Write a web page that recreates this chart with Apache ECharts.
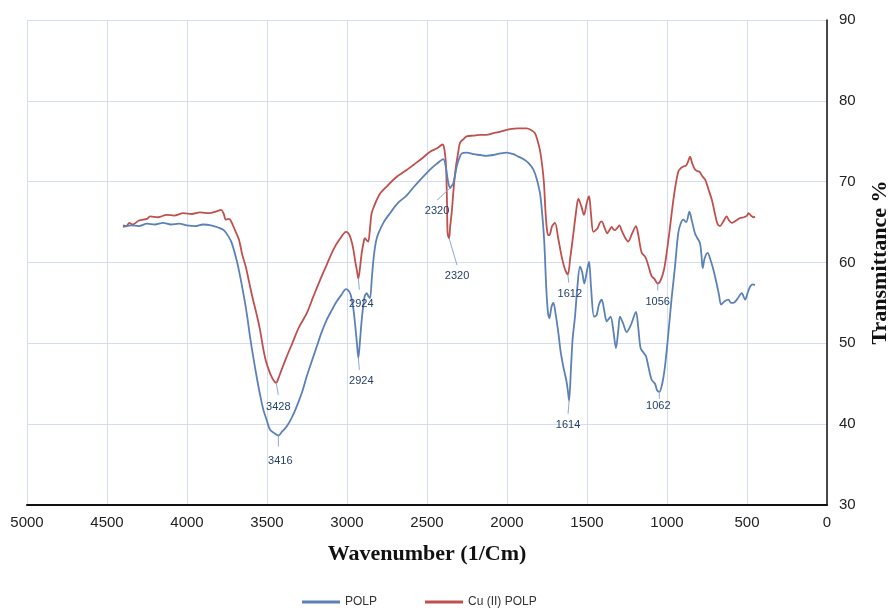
<!DOCTYPE html>
<html><head><meta charset="utf-8">
<script src="https://cdn.jsdelivr.net/npm/echarts@6/dist/echarts.min.js"></script>
<style>html,body{margin:0;padding:0;background:#fff}#c{width:893px;height:612px}</style>
</head><body><div id="c"></div>
<script>
// Wavenumber ticks and axis ranges
const xTicks = [5000,4500,4000,3500,3000,2500,2000,1500,1000,500,0];
const yTicks = [30,40,50,60,70,80,90];

// POLP (blue)
const polpWave = [4400,4350,4300,4250,4200,4150,4100,4050,4000,3950,3900,3850,3800,3770,3740,3720,3690,3670,3648,3625,3606,3585,3565,3545,3523,3500,3481,3455,3429,3405,3377,3345,3314,3280,3252,3220,3189,3160,3127,3095,3064,3035,3006,2990,2977,2962,2950,2938,2929,2920,2908,2890,2877,2865,2856,2845,2835,2820,2804,2770,2731,2680,2627,2580,2544,2481,2440,2398,2383,2370,2356,2345,2335,2314,2300,2283,2252,2210,2169,2130,2085,2040,2002,1960,1930,1898,1865,1835,1815,1794,1780,1767,1755,1745,1735,1722,1710,1695,1679,1665,1648,1630,1620,1612,1600,1590,1575,1560,1544,1530,1517,1500,1487,1475,1456,1440,1425,1408,1392,1377,1365,1352,1335,1319,1305,1294,1275,1252,1225,1194,1180,1165,1145,1131,1115,1096,1075,1062,1048,1030,1013,995,972,950,930,915,898,880,860,845,825,810,794,785,777,765,746,728,710,690,675,662,640,616,600,585,560,533,512,495,481,465,450];
const polpT = [64.4,64.6,64.5,64.8,64.7,64.9,64.7,64.8,64.6,64.5,64.7,64.6,64.3,64.0,63.2,62.4,60.3,58.5,56.2,53.5,50.8,48.2,45.9,43.8,41.8,40.4,39.3,38.9,38.6,39.1,39.7,40.8,42.2,44.0,45.9,47.8,49.6,51.3,52.9,54.1,55.2,56.0,56.7,56.5,56.0,54.5,52.5,50.0,48.2,50.0,52.9,55.8,56.2,55.8,55.6,58.0,60.3,62.5,63.6,65.0,66.1,67.4,68.3,69.4,70.2,71.5,72.2,72.8,71.9,70.2,69.2,69.5,69.8,71.9,72.8,73.5,73.6,73.4,73.3,73.2,73.3,73.5,73.6,73.4,73.1,72.8,72.3,71.5,70.4,68.6,66.0,62.5,57.0,54.0,53.1,54.5,55.0,53.5,51.3,49.0,47.1,45.5,44.2,42.9,47.0,50.5,53.3,57.0,59.5,58.8,57.4,59.0,60.1,57.0,53.3,53.5,54.8,55.4,54.0,52.7,53.0,53.3,51.5,49.4,51.5,53.3,52.5,51.4,52.3,53.9,52.0,49.4,48.8,48.4,47.0,45.5,45.0,44.2,44.0,45.0,47.1,50.5,55.4,59.5,63.6,64.8,65.3,65.0,66.3,65.2,63.6,63.0,62.4,61.0,59.3,60.5,61.2,60.3,59.1,57.4,56.0,54.8,55.2,55.4,55.0,55.0,55.5,56.2,55.4,56.3,57.0,57.3,57.2];

// Cu (II) POLP (red)
const cuWave = [4400,4380,4360,4340,4300,4250,4231,4180,4127,4080,4023,3970,3919,3860,3820,3786,3770,3758,3740,3727,3700,3675,3655,3633,3612,3592,3565,3544,3525,3508,3485,3467,3450,3442,3430,3417,3380,3342,3300,3252,3210,3169,3125,3085,3045,3006,2990,2977,2962,2950,2938,2929,2918,2908,2895,2888,2875,2867,2855,2846,2830,2815,2794,2752,2689,2630,2583,2530,2481,2440,2402,2390,2381,2375,2371,2362,2355,2346,2332,2319,2305,2294,2270,2252,2210,2169,2130,2085,2040,1981,1930,1877,1850,1825,1808,1794,1780,1769,1760,1752,1743,1735,1718,1700,1680,1658,1638,1620,1605,1585,1570,1554,1536,1519,1500,1487,1475,1460,1435,1420,1408,1390,1373,1360,1346,1335,1325,1310,1298,1280,1260,1242,1220,1194,1180,1170,1158,1140,1131,1115,1096,1080,1058,1040,1019,1000,981,955,930,912,894,880,868,856,843,825,810,796,780,760,740,719,700,685,669,650,627,612,596,575,544,520,500,491,475,460,450];
const cuT = [64.6,64.5,64.9,64.7,65.2,65.4,65.7,65.6,65.9,65.8,66.1,66.0,66.2,66.1,66.3,66.5,66.0,65.3,65.4,65.2,64.0,62.8,61.0,59.5,57.6,55.8,53.6,51.7,49.5,47.9,46.5,45.7,45.2,45.1,45.6,46.3,48.2,50.0,52.0,53.7,55.8,57.8,59.8,61.6,62.9,63.8,63.6,63.0,61.8,60.3,59.0,58.0,59.5,61.2,62.6,63.0,62.7,62.6,64.5,66.1,67.0,67.7,68.5,69.4,70.6,71.4,72.1,72.9,73.7,74.1,74.6,73.8,71.9,67.5,63.6,63.0,64.5,66.1,69.5,71.9,73.6,74.8,75.3,75.6,75.7,75.8,75.8,76.0,76.2,76.5,76.6,76.6,76.4,76.0,75.0,73.9,72.0,69.8,66.5,64.4,63.4,63.4,64.5,64.9,63.0,60.7,59.2,58.5,60.5,63.6,66.0,67.9,67.0,65.9,67.5,68.2,66.0,63.8,64.2,64.9,65.1,64.3,63.6,64.0,64.4,64.1,64.0,64.3,64.6,63.8,63.0,62.6,63.5,64.5,63.5,62.3,61.2,60.8,60.5,59.5,58.3,58.0,57.4,57.8,59.1,61.5,64.4,68.5,71.2,71.7,71.9,72.0,72.5,73.1,72.3,71.5,71.3,71.2,70.7,70.2,69.0,67.7,66.0,64.8,64.5,65.0,65.7,65.2,64.9,65.1,65.5,65.6,65.8,66.1,65.8,65.6,65.7];

// Peak annotations: label, anchor wavenumber, anchor transmittance
const peakLabels = ['3416','3428','2924','2924','2320','2320','1612','1614','1056','1062'];
const peakWave   = [3429,3442,2929,2929,2356,2362,1620,1612,1058,1048];
const peakT      = [38.6,45.1,48.2,58.0,69.2,63.0,58.5,42.9,57.4,44.0];
// pixel layout of leader end and text (styling, not data)
const leaderOff = [[0,11],[2,12],[1,12],[1,11],[-13,12],[8,27],[1,8],[-1,13],[0,7],[0,7]];
const textOff   = [[2,25],[2,24],[3,23],[3,25],[-13,23],[8,38],[2,19],[-1,24],[0,18],[-1,14]];

const zip = (a,b) => a.map((v,i)=>[v,b[i]]);
const chart = echarts.init(document.getElementById('c'), null, {renderer:'canvas'});
const sansFont = '"Liberation Sans", Arial, sans-serif';
const serifFont = '"Liberation Serif", "Times New Roman", serif';
chart.setOption({
  animation:false,
  backgroundColor:'#fff',
  grid:{left:27,right:66,top:20,bottom:107,containLabel:false,outerBoundsMode:'none'},
  legend:{
    data:['POLP','Cu (II) POLP'],
    left:297, top:591,
    icon:'rect', itemWidth:38, itemHeight:3, itemGap:48,
    textStyle:{fontFamily:sansFont,fontSize:12,color:'#333'}
  },
  xAxis:{
    type:'value', inverse:true, min:xTicks[xTicks.length-1], max:xTicks[0], interval:500,
    name:'Wavenumber (1/Cm)', nameLocation:'middle', nameGap:38,
    nameTextStyle:{fontFamily:serifFont,fontWeight:'bold',fontSize:22,color:'#111'},
    axisLine:{show:true,lineStyle:{color:'#111',width:2}},
    axisTick:{show:false},
    axisLabel:{fontFamily:sansFont,fontSize:15,color:'#222',margin:10,formatter:(v)=>String(v)},
    splitLine:{show:true,lineStyle:{color:'#d5def0',width:1}}
  },
  yAxis:{
    type:'value', position:'right', min:yTicks[0], max:yTicks[yTicks.length-1], interval:10,
    name:'Transmittance %', nameLocation:'middle', nameGap:42, nameRotate:90,
    nameTextStyle:{fontFamily:serifFont,fontWeight:'bold',fontSize:22,color:'#111'},
    axisLine:{show:true,lineStyle:{color:'#111',width:1.5}},
    axisTick:{show:false},
    axisLabel:{fontFamily:sansFont,fontSize:15,color:'#222',margin:12,formatter:(v)=>String(v)},
    splitLine:{show:true,lineStyle:{color:'#d5def0',width:1}}
  },
  series:[
    {name:'POLP',type:'line',data:zip(polpWave,polpT),showSymbol:false,smooth:0.3,
     lineStyle:{color:'#5b81b8',width:1.8},itemStyle:{color:'#5b81b8'},z:3},
    {name:'Cu (II) POLP',type:'line',data:zip(cuWave,cuT),showSymbol:false,smooth:0.3,
     lineStyle:{color:'#c0504d',width:1.8},itemStyle:{color:'#c0504d'},z:2},
    {name:'peaks',type:'custom',silent:true,z:10,
     data:zip(peakWave,peakT),
     renderItem:function(params,api){
       const i=params.dataIndex;
       const p=api.coord([api.value(0),api.value(1)]);
       return {type:'group',children:[
         {type:'line',shape:{x1:p[0],y1:p[1],x2:p[0]+leaderOff[i][0],y2:p[1]+leaderOff[i][1]},
          style:{stroke:'#8eaad6',lineWidth:1}},
         {type:'text',x:p[0]+textOff[i][0],y:p[1]+textOff[i][1],
          style:{text:peakLabels[i],fill:'#25406a',font:'11px '+sansFont,align:'center',verticalAlign:'middle'}}
       ]};
     }}
  ]
});
</script></body></html>
